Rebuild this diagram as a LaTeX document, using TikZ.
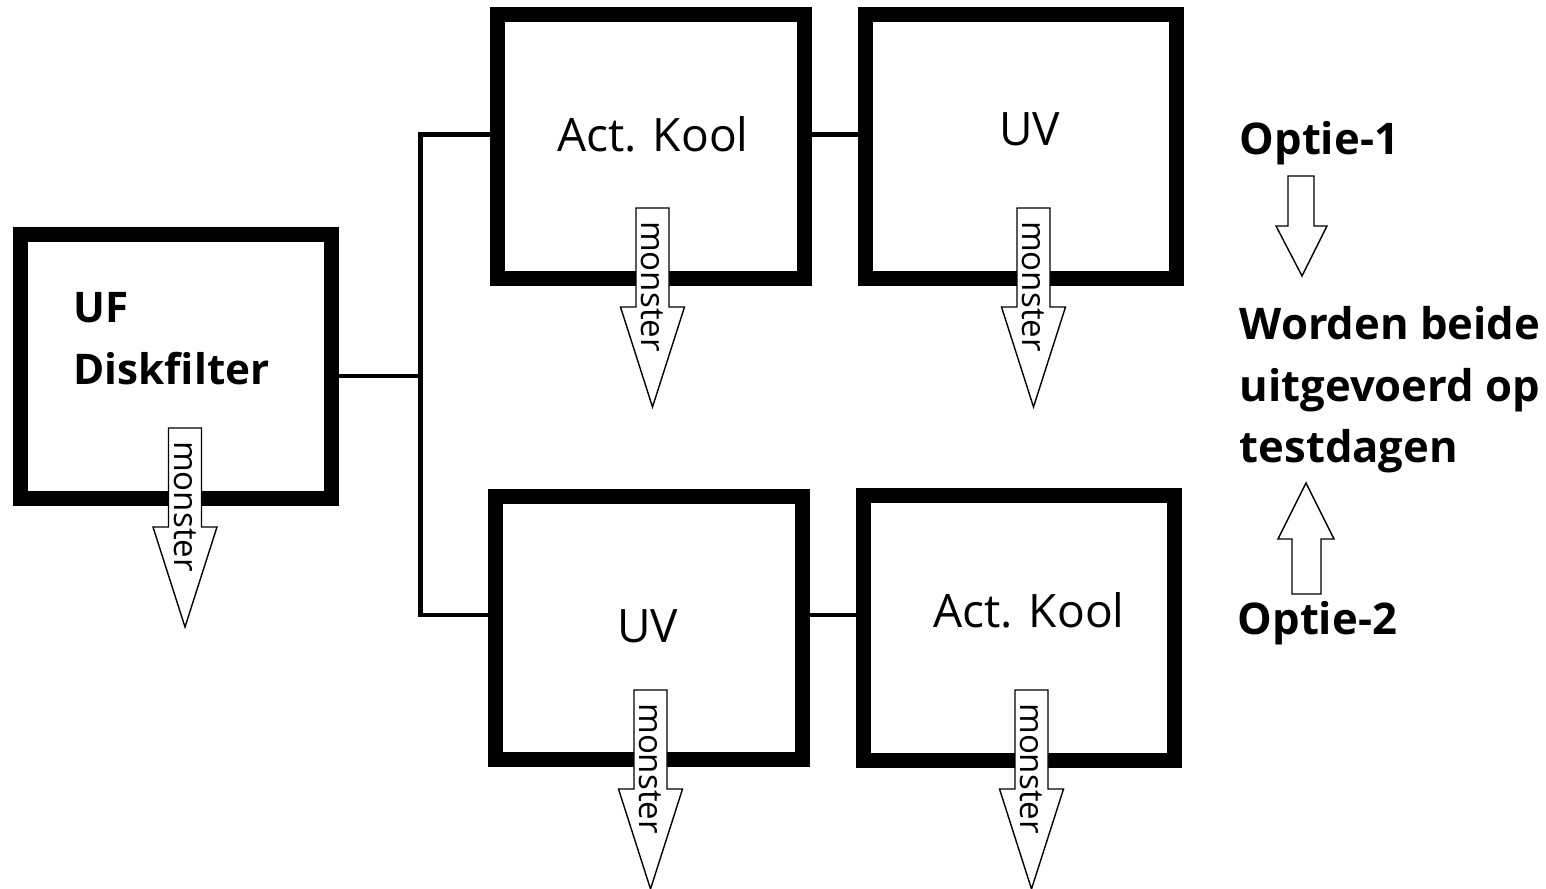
\documentclass[tikz,border=0pt]{standalone}
\usepackage{fontspec}
\setmainfont{Open Sans}
\usepackage{tikz}
\usetikzlibrary{positioning,arrows.meta}

\begin{document}
\begin{tikzpicture}[x=0.01cm,y=-0.01cm,
    box/.style={draw,line width=0.15cm,minimum width=3.11cm,minimum height=2.64cm},
    lbl/.style={inner sep=0pt,font=\fontsize{13.1}{17.6}\selectfont},
    boldlbl/.style={inner sep=0pt,align=left,anchor=base west,font=\fontsize{12.4}{17.6}\selectfont\bfseries},
    blockarr/.style={draw,fill=white,line width=0.4pt,line join=miter}]
  \useasboundingbox (0,0) rectangle (1546,889);

  \node[box] (uf) at (176,366.5) {};
  \node[box,minimum width=3.07cm] (ak1) at (651,146.5) {};
  \node[box] (uv1) at (1021,146.5) {};
  \node[box,minimum width=3.07cm,minimum height=2.63cm] (uv2) at (649,628) {};
  \node[box,minimum height=2.65cm] (ak2) at (1019,628) {};

  \node[boldlbl,font=\fontsize{12}{17.9}\selectfont\bfseries] (tuf) at (73,385) {UF\\Diskfilter};
  \node[lbl,anchor=base] (tak1) at (653,152) {Act. Kool};
  \node[lbl,anchor=base] (tuv1) at (1029.5,146) {UV};
  \node[lbl,anchor=base] (tuv2) at (647.5,643) {UV};
  \node[lbl,anchor=base] (tak2) at (1029,628) {Act. Kool};

  \coordinate (jt) at (420.5,134.5);
  \coordinate (jm) at (420.5,376);
  \coordinate (jb) at (420.5,615);

  \draw[line width=1.3pt] (uf.east |- jm) -- (jm);
  \draw[line width=1.3pt] (ak1.west |- jt) -- (jt) -- (jb) -- (uv2.west |- jb);
  \draw[line width=1.3pt] (ak1.east |- jt) -- (uv1.west |- jt);
  \draw[line width=1.3pt] (uv2.east |- jb) -- (ak2.west |- jb);

  \foreach \x/\y [count=\i] in {185/428,652.5/208,1033.5/208,650.5/690,1031.5/690}{
    \draw[blockarr] (\x-16.5,\y) -- ++(33,0) -- ++(0,99) -- ++(15.5,0)
      -- (\x,\y+199) -- (\x-32,\y+99) -- ++(15.5,0) -- cycle;
    \node[rotate=-90,inner sep=0pt,font=\fontsize{9.4}{11}\selectfont] (mon\i) at (\x,\y+78.5) {monster};
  }

  \node[boldlbl] (opt1) at (1239,155) {Optie-1};
  \node[boldlbl] (both) at (1239,463) {Worden beide\\uitgevoerd op\\testdagen};
  \node[boldlbl] (opt2) at (1237,635) {Optie-2};

  \draw[blockarr] (1288,176) -- (1314,176) -- (1314,226) -- (1327,226) -- (1302,276) -- (1276,226) -- (1288,226) -- cycle;
  \draw[blockarr] (1292,594) -- (1321,594) -- (1321,539) -- (1334,539) -- (1306,483) -- (1278,539) -- (1292,539) -- cycle;
\end{tikzpicture}
\end{document}
